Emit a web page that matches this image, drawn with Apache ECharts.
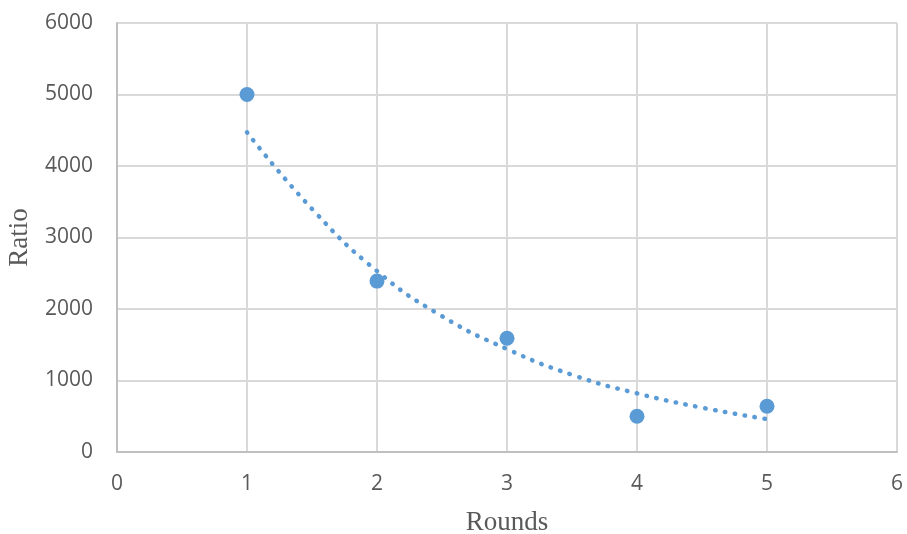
<!DOCTYPE html>
<html>
<head>
<meta charset="utf-8">
<script src="https://cdn.jsdelivr.net/npm/echarts@6/dist/echarts.min.js"></script>
<style>
  html, body { margin: 0; padding: 0; background: #fff; }
  #chart { width: 907px; height: 534px; }
</style>
</head>
<body>
<div id="chart"></div>
<script>
// observed points
const rounds = [1, 2, 3, 4, 5];
const ratios = [5000, 2390, 1590, 500, 640];

// dotted trend curve
const trendX = [1, 1.5, 2, 2.5, 3, 3.5, 4, 4.5, 5];
const trendY = [4470, 3400, 2530, 1900, 1440, 1080, 820, 620, 460];

const xTicks = [0, 1, 2, 3, 4, 5, 6];
const yTicks = [0, 1000, 2000, 3000, 4000, 5000, 6000];

const blue = '#5b9bd5';
const tickFont = { fontFamily: 'Open Sans', fontSize: 21, color: '#595959' };
const nameFont = { fontFamily: 'Liberation Serif', fontSize: 27, color: '#595959' };
const chart = echarts.init(document.getElementById('chart'));

chart.setOption({
  animation: false,
  grid: { left: 117, right: 10, top: 23, bottom: 82, outerBoundsMode: 'none' },
  xAxis: {
    type: 'value',
    min: xTicks[0],
    max: xTicks[xTicks.length - 1],
    interval: 1,
    name: 'Rounds',
    nameLocation: 'middle',
    nameGap: 57,
    nameTextStyle: nameFont,
    axisLine: { lineStyle: { color: '#bfbfbf', width: 2 } },
    axisTick: { show: false },
    axisLabel: Object.assign({ margin: 22, formatter: v => String(v) }, tickFont),
    splitLine: { show: true, lineStyle: { color: '#d9d9d9', width: 2 } }
  },
  yAxis: {
    type: 'value',
    min: yTicks[0],
    max: yTicks[yTicks.length - 1],
    interval: 1000,
    name: 'Ratio',
    nameLocation: 'middle',
    nameGap: 84,
    nameTextStyle: nameFont,
    axisLine: { show: true, lineStyle: { color: '#bfbfbf', width: 2 } },
    axisTick: { show: false },
    axisLabel: Object.assign({ margin: 24, formatter: v => String(v) }, tickFont),
    splitLine: { show: true, lineStyle: { color: '#d9d9d9', width: 2 } }
  },
  series: [
    {
      type: 'line',
      data: trendX.map((x, i) => [x, trendY[i]]),
      smooth: true,
      showSymbol: false,
      lineStyle: { color: blue, width: 4.5, type: [0.5, 9.5], cap: 'round' },
      z: 2
    },
    {
      type: 'scatter',
      data: rounds.map((x, i) => [x, ratios[i]]),
      symbolSize: 15,
      itemStyle: { color: blue, opacity: 1 },
      z: 3
    }
  ]
});
</script>
</body>
</html>
